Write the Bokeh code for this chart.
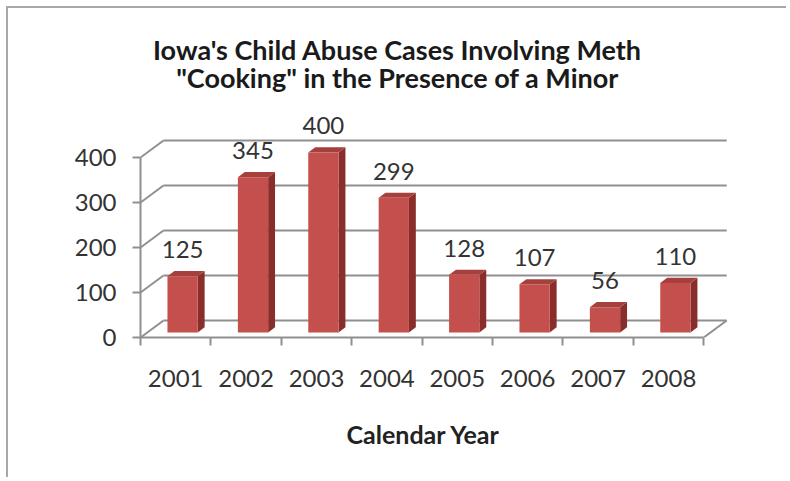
from bokeh.plotting import figure
from bokeh.models import Range1d, FixedTicker, Label, Title
from bokeh.embed import file_html
from bokeh.resources import INLINE
from bokeh.core.properties import value

# ---- data ----
years = ["2001", "2002", "2003", "2004", "2005", "2006", "2007", "2008"]
cases = [125, 345, 400, 299, 128, 107, 56, 110]
y_ticks = [0, 100, 200, 300, 400]
title_lines = ["Iowa's Child Abuse Cases Involving Meth",
               "\"Cooking\" in the Presence of a Minor"]
x_title = "Calendar Year"

# ---- layout / style ----
W, H = 780, 471
ML = 132
FRAME_BOTTOM = 329     # canvas y of the value 0 (front)
MB = H - FRAME_BOTTOM
PX_CAT = 70.4          # pixels per category
PX_VAL = 0.45          # pixels per case
DEPTH_X = 23 / PX_CAT  # 3D depth in category units
DEPTH_Y = 17 / PX_VAL  # 3D depth in value units
BAR_W = 0.43
F0, F1 = 0.30, 0.60    # bar front / back position in depth
FONT = "Lato"
GRID = "#8f8f8f"
TXT = "#333333"
FRONT, SIDE, TOP = "#C3504D", "#8A2E2C", "#A5403D"

n = len(years)
x_end = (W - ML) / PX_CAT
y_end = FRAME_BOTTOM / PX_VAL

p = figure(width=W, height=H, output_backend="svg", toolbar_location=None,
           x_range=Range1d(0, x_end), y_range=Range1d(0, y_end),
           min_border_left=ML, min_border_bottom=MB,
           min_border_top=0, min_border_right=0)
p.grid.visible = False
p.outline_line_color = None
p.background_fill_color = "white"
p.border_fill_color = "white"
p.styles = {"margin-left": "6px", "margin-top": "6px",
            "border-left": "2px solid #a8a8a8", "border-top": "2px solid #a8a8a8"}

# x axis: labels at category centres, tick marks at category boundaries
xa = p.xaxis[0]
xa.ticker = FixedTicker(ticks=[i + 0.5 for i in range(n)], minor_ticks=list(range(n + 1)))
xa.major_label_overrides = {i + 0.5: yr for i, yr in enumerate(years)}
xa.bounds = (0, n)
xa.major_tick_in = 0
xa.major_tick_out = 8
xa.major_tick_line_color = None
xa.minor_tick_in = 0
xa.minor_tick_out = 8
xa.minor_tick_line_color = GRID
xa.minor_tick_line_width = 2
xa.axis_line_color = GRID
xa.axis_line_width = 2
xa.major_label_text_font = FONT
xa.major_label_text_font_size = "24px"
xa.major_label_text_color = TXT
xa.major_label_standoff = 24

ya = p.yaxis[0]
ya.ticker = FixedTicker(ticks=y_ticks, minor_ticks=[])
ya.bounds = (min(y_ticks), max(y_ticks))
ya.major_tick_in = 0
ya.major_tick_out = 8
ya.major_tick_line_color = GRID
ya.major_tick_line_width = 2
ya.minor_tick_line_color = None
ya.axis_line_color = GRID
ya.axis_line_width = 2
ya.major_label_text_font = FONT
ya.major_label_text_font_size = "24px"
ya.major_label_text_color = TXT
ya.major_label_standoff = 16

# back walls: gridlines in depth
p.segment(x0=[0] * len(y_ticks), y0=y_ticks,
          x1=[DEPTH_X] * len(y_ticks), y1=[v + DEPTH_Y for v in y_ticks],
          line_color=GRID, line_width=2)
p.segment(x0=[DEPTH_X] * len(y_ticks), y0=[v + DEPTH_Y for v in y_ticks],
          x1=[n + DEPTH_X] * len(y_ticks), y1=[v + DEPTH_Y for v in y_ticks],
          line_color=GRID, line_width=2)
p.segment(x0=[n], y0=[0], x1=[n + DEPTH_X], y1=[DEPTH_Y], line_color=GRID, line_width=2)

# 3D bars
b0 = F0 * DEPTH_Y
bdx = (F1 - F0) * DEPTH_X
bdy = (F1 - F0) * DEPTH_Y
left = [i + 0.5 - BAR_W / 2 + F0 * DEPTH_X for i in range(n)]
right = [l + BAR_W for l in left]
tops = [v + b0 for v in cases]

p.patches(xs=[[r, r + bdx, r + bdx, r] for r in right],
          ys=[[b0, b0 + bdy, t + bdy, t] for t in tops],
          fill_color=SIDE, line_color=None)
p.patches(xs=[[l, r, r + bdx, l + bdx] for l, r in zip(left, right)],
          ys=[[t, t, t + bdy, t + bdy] for t in tops],
          fill_color=TOP, line_color=None)
p.quad(left=left, right=right, bottom=b0, top=tops, fill_color=FRONT, line_color=None)

# value labels
p.text(x=[i + 0.5 + F0 * DEPTH_X for i in range(n)], y=[t + bdy for t in tops],
       text=[str(v) for v in cases], text_align="center", text_baseline="bottom",
       y_offset=-13, text_font=value(FONT), text_font_size="24px", text_color=TXT)

# title (two lines)
title_cx = (397 - 140) / PX_CAT
for line, base in zip(title_lines, [41, 69]):
    p.add_layout(Label(x=title_cx, y=(FRAME_BOTTOM - base) / PX_VAL, text=line,
                       text_align="center", text_baseline="alphabetic",
                       text_font=FONT, text_font_size="27px", text_font_style="bold",
                       text_color="#1a1a1a"))

# axis title, placed under the category axis
p.add_layout(Title(text=x_title, align="left", offset=206, standoff=54,
                   text_font=FONT, text_font_size="25px", text_font_style="bold",
                   text_color="#222222"), "below")

open("out.html", "w").write(file_html(p, INLINE))
